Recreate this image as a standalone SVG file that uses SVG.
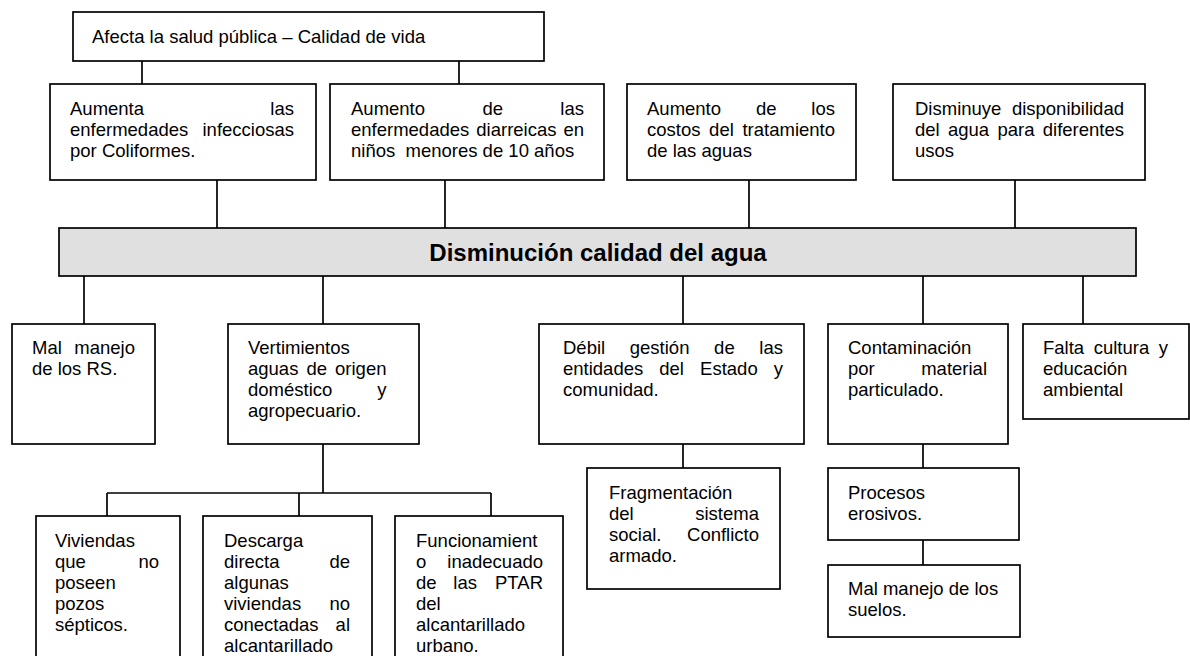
<svg xmlns="http://www.w3.org/2000/svg" width="1190" height="656" viewBox="0 0 1190 656">
<style>
rect{fill:#fff;stroke:#000;stroke-width:1.7}
rect.bar{fill:#e0e0e0}
text{font-family:"Liberation Sans",Arial,sans-serif;font-size:18.5px;fill:#000}
text.e{text-anchor:end}
text.pre{white-space:pre}
text.title{font-weight:bold;font-size:24px;text-anchor:middle}
#connectors path{fill:none;stroke:#000;stroke-width:1.7}
</style>
<rect x="0" y="0" width="1190" height="656" style="fill:#fff;stroke:none"/>
<g id="connectors">
<path d="M142 61V84M459 61V84"/>
<path d="M217 180V228M445 180V228M749 180V228M1015 180V228"/>
<path d="M84 276V324M323 276V324M683 276V324M923 276V324M1083 276V324"/>
<path d="M323 444V493M107 493H491M107 493V516M299 493V516M491 493V516"/>
<path d="M683 444V468M923 444V468M923 540V565"/>
</g>
<g id="n-afecta">
<rect x="73" y="12" width="471" height="49"/>
<text x="92" y="42.5">Afecta la salud pública – Calidad de vida</text>
</g>
<g id="n-aumenta-enf">
<rect x="50" y="84" width="266" height="96"/>
<text x="70" y="114.5">Aumenta</text><text class="e" x="294" y="114.5">las</text>
<text x="70" y="135.5">enfermedades</text><text class="e" x="294" y="135.5">infecciosas</text>
<text x="70" y="156.5">por Coliformes.</text>
</g>
<g id="n-diarreicas">
<rect x="330" y="84" width="274" height="96"/>
<text x="351" y="114.5">Aumento</text><text x="482.4" y="114.5">de</text><text class="e" x="584" y="114.5">las</text>
<text x="351" y="135.5">enfermedades</text><text x="476.3" y="135.5">diarreicas</text><text class="e" x="584" y="135.5">en</text>
<text class="pre" x="351" y="156.5">niños  menores de 10 años</text>
</g>
<g id="n-costos">
<rect x="627" y="84" width="229" height="96"/>
<text x="647" y="114.5">Aumento</text><text x="755.9" y="114.5">de</text><text class="e" x="835" y="114.5">los</text>
<text x="647" y="135.5">costos</text><text x="709.1" y="135.5">del</text><text class="e" x="835" y="135.5">tratamiento</text>
<text x="647" y="156.5">de las aguas</text>
</g>
<g id="n-disponibilidad">
<rect x="893" y="84" width="252" height="96"/>
<text x="915" y="114.5">Disminuye</text><text class="e" x="1124" y="114.5">disponibilidad</text>
<text x="915" y="135.5">del</text><text x="948" y="135.5">agua</text><text x="997.4" y="135.5">para</text><text class="e" x="1124" y="135.5">diferentes</text>
<text x="915" y="156.5">usos</text>
</g>
<g id="n-disminucion">
<rect class="bar" x="59" y="228" width="1077" height="48"/>
<text class="title" x="598" y="261">Disminución calidad del agua</text>
</g>
<g id="n-rs">
<rect x="12" y="324" width="143" height="120"/>
<text x="32" y="354">Mal</text><text class="e" x="135" y="354">manejo</text>
<text x="32" y="375">de los RS.</text>
</g>
<g id="n-vertimientos">
<rect x="228" y="324" width="191" height="120"/>
<text x="248" y="354">Vertimientos</text>
<text x="248" y="375">aguas</text><text x="306.5" y="375">de</text><text class="e" x="386.5" y="375">origen</text>
<text x="248" y="396">doméstico</text><text class="e" x="386.5" y="396">y</text>
<text x="248" y="417">agropecuario.</text>
</g>
<g id="n-gestion">
<rect x="539" y="324" width="265" height="120"/>
<text x="563" y="354">Débil</text><text x="629.8" y="354">gestión</text><text x="714.1" y="354">de</text><text class="e" x="783" y="354">las</text>
<text x="563" y="375">entidades</text><text x="659.3" y="375">del</text><text x="700.1" y="375">Estado</text><text class="e" x="783" y="375">y</text>
<text x="563" y="396">comunidad.</text>
</g>
<g id="n-contaminacion">
<rect x="828" y="324" width="180" height="120"/>
<text x="848" y="354">Contaminación</text>
<text x="848" y="375">por</text><text class="e" x="987" y="375">material</text>
<text x="848" y="396">particulado.</text>
</g>
<g id="n-cultura">
<rect x="1023" y="324" width="166" height="95"/>
<text x="1043" y="354">Falta</text><text x="1093.7" y="354">cultura</text><text class="e" x="1168" y="354">y</text>
<text x="1043" y="375">educación</text>
<text x="1043" y="396">ambiental</text>
</g>
<g id="n-viviendas">
<rect x="36" y="516" width="144" height="160"/>
<text x="55" y="547">Viviendas</text>
<text x="55" y="568">que</text><text class="e" x="159" y="568">no</text>
<text x="55" y="589">poseen</text>
<text x="55" y="610">pozos</text>
<text x="55" y="631">sépticos.</text>
</g>
<g id="n-descarga">
<rect x="203" y="516" width="169" height="160"/>
<text x="224" y="547">Descarga</text>
<text x="224" y="568">directa</text><text class="e" x="350" y="568">de</text>
<text x="224" y="589">algunas</text>
<text x="224" y="610">viviendas</text><text class="e" x="350" y="610">no</text>
<text x="224" y="631">conectadas</text><text class="e" x="350" y="631">al</text>
<text x="224" y="652">alcantarillado</text>
</g>
<g id="n-ptar">
<rect x="395" y="516" width="168" height="160"/>
<text x="416" y="547">Funcionamient</text>
<text x="416" y="568">o</text><text class="e" x="543" y="568">inadecuado</text>
<text x="416" y="589">de</text><text x="453.3" y="589">las</text><text class="e" x="543" y="589">PTAR</text>
<text x="416" y="610">del</text>
<text x="416" y="631">alcantarillado</text>
<text x="416" y="652">urbano.</text>
</g>
<g id="n-fragmentacion">
<rect x="587" y="468" width="193" height="121"/>
<text x="609" y="498.5">Fragmentación</text>
<text x="609" y="519.5">del</text><text class="e" x="759" y="519.5">sistema</text>
<text x="609" y="540.5">social.</text><text class="e" x="759" y="540.5">Conflicto</text>
<text x="609" y="561.5">armado.</text>
</g>
<g id="n-procesos">
<rect x="828" y="468" width="191" height="72"/>
<text x="848" y="498.5">Procesos</text>
<text x="848" y="519.5">erosivos.</text>
</g>
<g id="n-suelos">
<rect x="828" y="565" width="192" height="72"/>
<text x="848" y="595">Mal manejo de los</text>
<text x="848" y="616">suelos.</text>
</g>
</svg>
